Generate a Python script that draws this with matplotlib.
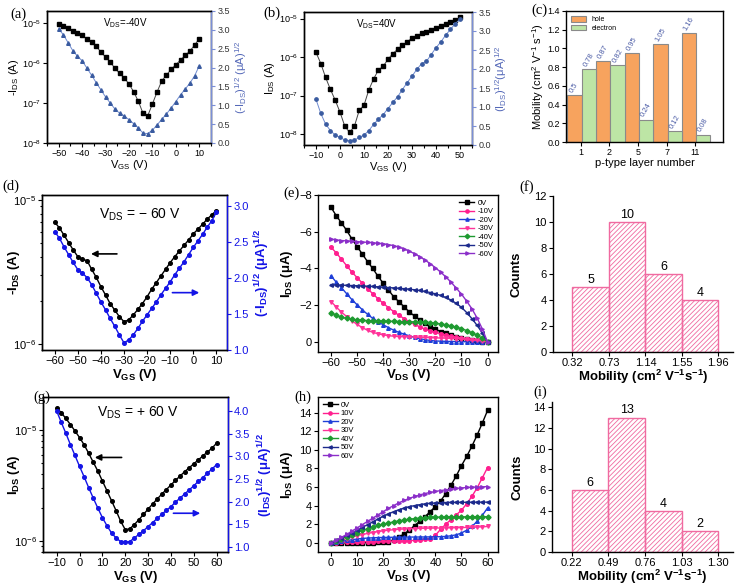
import numpy as np
import matplotlib
matplotlib.use("Agg")
import matplotlib.pyplot as plt
from matplotlib.ticker import MultipleLocator, NullLocator, NullFormatter, LogLocator, FixedLocator

plt.rcParams['font.family'] = ['Liberation Sans', 'DejaVu Sans']
plt.rcParams['mathtext.default'] = 'regular'
plt.rcParams['hatch.linewidth'] = 0.6
plt.rcParams['axes.linewidth'] = 1.0

# ---------------- data ----------------
# (a) transfer curve, VDS = -40 V
vgs_a = np.arange(-50, 11, 2)
ids_a = [9.3e-6, 8.5e-6, 7.4e-6, 6.5e-6, 5.7e-6, 4.9e-6, 4.0e-6, 3.3e-6, 2.6e-6, 1.9e-6, 1.4e-6,
         1.05e-6, 7.4e-7, 5.5e-7, 4.2e-7, 3.0e-7, 1.9e-7, 1.1e-7, 5.5e-8, 4.8e-8, 9.5e-8,
         1.9e-7, 3.6e-7, 5.0e-7, 7.0e-7, 9.0e-7, 1.2e-6, 1.55e-6, 2.0e-6, 2.8e-6, 4.1e-6]
sqrt_a = [3.02, 2.87, 2.66, 2.45, 2.30, 2.18, 1.99, 1.80, 1.60, 1.41, 1.22,
          1.06, 0.90, 0.79, 0.71, 0.62, 0.51, 0.40, 0.26, 0.25, 0.34,
          0.48, 0.63, 0.77, 0.93, 1.10, 1.28, 1.43, 1.59, 1.78, 2.05]

# (b) transfer curve, VDS = +40 V
vgs_b = np.arange(-10, 51, 2)
ids_b = [1.32e-6, 6.8e-7, 2.95e-7, 1.45e-7, 7.6e-8, 3.7e-8, 1.6e-8, 1.1e-8, 1.6e-8, 4.1e-8, 5.6e-8,
         1.4e-7, 2.7e-7, 4.6e-7, 5.8e-7, 8.7e-7, 1.23e-6, 1.58e-6, 2.04e-6, 2.5e-6, 3.1e-6,
         3.6e-6, 4.1e-6, 4.5e-6, 5.0e-6, 5.6e-6, 6.3e-6, 7.1e-6, 7.9e-6, 9.1e-6, 1.07e-5]
sqrt_b = [1.2, 0.83, 0.55, 0.38, 0.26, 0.20, 0.13, 0.11, 0.13, 0.20, 0.26,
          0.38, 0.54, 0.68, 0.80, 0.96, 1.12, 1.27, 1.46, 1.64, 1.81,
          1.99, 2.14, 2.20, 2.38, 2.56, 2.71, 2.89, 3.04, 3.19, 3.31]

# (c) mobility vs p-type layer number
layers = ['1', '2', '5', '7', '11']
mu_hole = [0.5, 0.87, 0.95, 1.05, 1.16]
mu_elec = [0.78, 0.82, 0.24, 0.12, 0.08]

# (d) transfer curve, VDS = -60 V
vgs_d = np.arange(-60, 11, 2)
ids_d = [7.0e-6, 6.4e-6, 5.7e-6, 5.06e-6, 4.5e-6, 4.04e-6, 3.87e-6, 3.79e-6, 3.30e-6, 2.90e-6,
         2.50e-6, 2.19e-6, 1.91e-6, 1.72e-6, 1.55e-6, 1.43e-6,
         1.47e-6, 1.59e-6, 1.74e-6, 1.91e-6, 2.13e-6, 2.40e-6, 2.67e-6, 2.97e-6, 3.30e-6, 3.67e-6,
         4.04e-6, 4.42e-6, 4.84e-6, 5.27e-6, 5.81e-6, 6.25e-6, 6.77e-6, 7.34e-6, 7.87e-6, 8.43e-6]
sqrt_d = [2.65, 2.56, 2.44, 2.33, 2.22, 2.12, 2.07, 2.01, 1.91, 1.79, 1.67, 1.56, 1.44, 1.33, 1.21, 1.10,
          1.14, 1.21, 1.30, 1.40, 1.49, 1.58, 1.67, 1.77, 1.86, 1.95,
          2.05, 2.14, 2.23, 2.33, 2.43, 2.52, 2.61, 2.71, 2.80, 2.92]

# (e) output curves, negative VGS
vds_e = np.arange(-60, 1, 2)
out_e = {
    '0V':   [-7.33, -6.87, -6.48, -6.07, -5.61, -5.19, -4.78, -4.37, -4.00, -3.57, -3.20, -2.83, -2.46,
             -2.19, -1.91, -1.63, -1.41, -1.20, -1.02, -0.83, -0.70, -0.56, -0.46, -0.37, -0.28, -0.20,
             -0.15, -0.09, -0.06, -0.02, 0.0],
    '-10V': [-5.15, -4.85, -4.50, -4.15, -3.80, -3.50, -3.20, -2.90, -2.62, -2.35, -2.10, -1.87, -1.65,
             -1.45, -1.27, -1.10, -0.95, -0.82, -0.70, -0.60, -0.52, -0.45, -0.38, -0.32, -0.27, -0.22,
             -0.17, -0.13, -0.09, -0.05, 0.0],
    '-20V': [-3.60, -3.25, -2.95, -2.62, -2.30, -2.02, -1.75, -1.50, -1.28, -1.10, -0.93, -0.78, -0.64,
             -0.52, -0.42, -0.33, -0.25, -0.18, -0.12, -0.08, -0.05, -0.04, -0.03, -0.02, -0.02, -0.01,
             -0.01, -0.01, 0.0, 0.0, 0.0],
    '-30V': [-2.20, -1.90, -1.62, -1.38, -1.15, -0.95, -0.78, -0.63, -0.52, -0.44, -0.38, -0.34, -0.31,
             -0.29, -0.28, -0.27, -0.26, -0.25, -0.24, -0.23, -0.22, -0.21, -0.20, -0.19, -0.18, -0.16,
             -0.14, -0.12, -0.09, -0.05, 0.0],
    '-40V': [-1.60, -1.45, -1.35, -1.28, -1.23, -1.20, -1.18, -1.16, -1.15, -1.14, -1.13, -1.12, -1.12,
             -1.11, -1.10, -1.10, -1.09, -1.08, -1.07, -1.05, -1.02, -0.98, -0.93, -0.87, -0.80, -0.72,
             -0.62, -0.50, -0.36, -0.20, 0.0],
    '-50V': [-3.12, -3.10, -3.09, -3.08, -3.07, -3.06, -3.05, -3.03, -3.02, -3.00, -2.98, -2.96, -2.94,
             -2.92, -2.90, -2.87, -2.84, -2.80, -2.75, -2.69, -2.62, -2.53, -2.42, -2.28, -2.10, -1.88,
             -1.60, -1.27, -0.90, -0.48, 0.0],
    '-60V': [-5.60, -5.55, -5.52, -5.50, -5.48, -5.46, -5.44, -5.42, -5.40, -5.37, -5.34, -5.30, -5.24,
             -5.16, -5.06, -4.94, -4.80, -4.64, -4.46, -4.26, -4.04, -3.80, -3.54, -3.25, -2.93, -2.60,
             -2.22, -1.80, -1.30, -0.70, 0.0],
}

# (f) hole mobility histogram
edges_f = [0.32, 0.73, 1.14, 1.55, 1.96]
counts_f = [5, 10, 6, 4]

# (g) transfer curve, VDS = +60 V
vgs_g = np.arange(-10, 61, 2)
ids_g = [1.58e-5, 1.43e-5, 1.27e-5, 1.12e-5, 9.8e-6, 8.55e-6, 7.36e-6, 6.17e-6, 5.13e-6, 4.27e-6,
         3.48e-6, 2.84e-6, 2.31e-6, 1.88e-6, 1.51e-6, 1.27e-6,
         1.29e-6, 1.41e-6, 1.56e-6, 1.74e-6, 1.94e-6, 2.16e-6, 2.39e-6, 2.65e-6, 2.91e-6, 3.2e-6,
         3.52e-6, 3.85e-6, 4.21e-6, 4.57e-6, 4.96e-6, 5.38e-6, 5.84e-6, 6.34e-6, 6.87e-6, 7.6e-6]
sqrt_g = [4.0, 3.75, 3.51, 3.26, 3.02, 2.78, 2.55, 2.31, 2.08, 1.86, 1.65, 1.47, 1.31, 1.2, 1.12, 1.11,
          1.12, 1.2, 1.28, 1.36, 1.45, 1.54, 1.63, 1.72, 1.81, 1.89,
          1.99, 2.08, 2.17, 2.26, 2.35, 2.45, 2.53, 2.63, 2.72, 2.82]

# (h) output curves, positive VGS
vds_h = np.arange(0, 61, 2)
out_h = {
    '0V':  [0, 0, 0, 0, 0, 0, 0, 0.01, 0.02, 0.03, 0.05, 0.12, 0.3, 0.6, 0.95, 1.35, 1.85, 2.3, 2.8,
            3.35, 3.9, 4.5, 5.3, 6.2, 7.2, 8.3, 9.3, 10.4, 11.6, 12.9, 14.25],
    '10V': [0, 0.02, 0.04, 0.06, 0.08, 0.1, 0.11, 0.12, 0.13, 0.14, 0.15, 0.16, 0.17, 0.18, 0.2, 0.22,
            0.25, 0.3, 0.38, 0.45, 0.8, 1.45, 2.0, 2.5, 3.0, 3.5, 4.2, 5.0, 5.9, 7.0, 8.1],
    '20V': [0, 0.08, 0.16, 0.24, 0.32, 0.4, 0.46, 0.5, 0.53, 0.55, 0.57, 0.58, 0.59, 0.6, 0.6, 0.61,
            0.61, 0.62, 0.62, 0.63, 0.64, 0.65, 0.68, 0.75, 0.85, 1.05, 1.35, 1.75, 2.3, 2.95, 3.75],
    '30V': [0, 0.15, 0.3, 0.45, 0.6, 0.75, 0.88, 1.0, 1.1, 1.2, 1.28, 1.35, 1.4, 1.45, 1.48, 1.51,
            1.53, 1.55, 1.56, 1.57, 1.58, 1.59, 1.6, 1.61, 1.62, 1.63, 1.65, 1.67, 1.69, 1.72, 1.75],
    '40V': [0, 0.22, 0.44, 0.66, 0.88, 1.1, 1.32, 1.52, 1.7, 1.86, 2.0, 2.12, 2.25, 2.35, 2.45, 2.53,
            2.6, 2.65, 2.7, 2.73, 2.75, 2.76, 2.77, 2.78, 2.78, 2.79, 2.79, 2.8, 2.8, 2.8, 2.8],
    '50V': [0, 0.25, 0.5, 0.78, 1.05, 1.35, 1.65, 1.95, 2.25, 2.55, 2.85, 3.1, 3.35, 3.55, 3.72, 3.88,
            4.0, 4.1, 4.18, 4.24, 4.28, 4.31, 4.33, 4.34, 4.35, 4.35, 4.36, 4.36, 4.37, 4.37, 4.37],
    '60V': [0, 0.28, 0.58, 0.9, 1.25, 1.6, 1.95, 2.3, 2.65, 3.0, 3.35, 3.7, 4.0, 4.3, 4.55, 4.78,
            4.98, 5.15, 5.3, 5.42, 5.52, 5.62, 5.7, 5.78, 5.85, 5.9, 5.95, 5.98, 6.0, 6.02, 6.05],
}

# (i) electron mobility histogram
edges_i = [0.22, 0.49, 0.76, 1.03, 1.30]
counts_i = [6, 13, 4, 2]

# styles for the output curves
curve_style = [('k', 's'), ('#ff1f8f', 'o'), ('#1f3fd8', '^'), ('#ff3399', 'v'),
               ('#1e9a30', 'D'), ('#1c2a8c', '<'), ('#8b2fc9', '>')]

# ---------------- layout ----------------
W, H = 740, 587
fig = plt.figure(figsize=(7.4, 5.87), dpi=100)


def box(l, t, r, b):
    # pixel box -> figure fraction
    return [l / W, 1 - b / H, (r - l) / W, (b - t) / H]


def panel_label(x, y, s):
    fig.text(x / W, 1 - y / H, s, family='Liberation Serif', fontsize=10.5, va='center')


def small_ticks(ax, size):
    ax.tick_params(which='both', direction='out', labelsize=size, width=0.8, pad=1.5)
    ax.tick_params(which='major', length=3)
    ax.tick_params(which='minor', length=1.8)


# ---------- (a) ----------
ax = fig.add_axes(box(47, 11, 211, 143))
ax.semilogy(vgs_a, ids_a, color='#444444', lw=0.7, marker='s', ms=2.6, mfc='k', mec='k')
ax.set_xlim(-55, 15)
ax.set_ylim(1e-8, 2e-5)
ax.xaxis.set_major_locator(MultipleLocator(10))
ax.xaxis.set_minor_locator(MultipleLocator(5))
ax.yaxis.set_major_locator(FixedLocator([1e-8, 1e-7, 1e-6, 1e-5]))
ax.yaxis.set_minor_locator(NullLocator())
small_ticks(ax, 6.5)
ax.set_xlabel('V$_{GS}$ (V)', fontsize=8)
ax.xaxis.set_label_coords(0.5, -0.115)
ax.set_ylabel('-I$_{DS}$ (A)', fontsize=8)
ax.yaxis.set_label_coords(-0.16, 0.5)
ax.text(0.48, 0.91, 'V$_{DS}$=-40V', transform=ax.transAxes, ha='center', va='center', fontsize=7)
ax2 = ax.twinx()
ax2.plot(vgs_a, sqrt_a, color='#6f8bd0', lw=0.7, marker='^', ms=2.6, mfc='#3a5ba0', mec='#3a5ba0')
ax2.set_ylim(0, 3.5)
ax2.yaxis.set_major_locator(MultipleLocator(0.5))
small_ticks(ax2, 6.5)
ax2.spines['right'].set_color('#7b8fd6')
ax2.tick_params(axis='y', colors='#7b8fd6', labelcolor='#333333')
ax2.set_ylabel('(-I$_{DS}$)$^{1/2}$ (μA)$^{1/2}$', fontsize=8, color='#5468b8')
ax2.yaxis.set_label_coords(1.134, 0.5)
panel_label(10, 14, '(a)')

# ---------- (b) ----------
ax = fig.add_axes(box(304, 12, 472, 145))
ax.semilogy(vgs_b, ids_b, color='#444444', lw=0.7, marker='s', ms=2.6, mfc='k', mec='k')
ax.set_xlim(-15, 55)
ax.set_ylim(5.2e-9, 1.48e-5)
ax.xaxis.set_major_locator(MultipleLocator(10))
ax.xaxis.set_minor_locator(MultipleLocator(5))
ax.yaxis.set_major_locator(FixedLocator([1e-8, 1e-7, 1e-6, 1e-5]))
ax.yaxis.set_minor_locator(NullLocator())
small_ticks(ax, 6.5)
ax.set_xlabel('V$_{GS}$ (V)', fontsize=8)
ax.xaxis.set_label_coords(0.5, -0.11)
ax.set_ylabel('I$_{DS}$ (A)', fontsize=8, labelpad=1)
ax.text(0.43, 0.91, 'V$_{DS}$=40V', transform=ax.transAxes, ha='center', va='center', fontsize=7)
ax2 = ax.twinx()
ax2.plot(vgs_b, sqrt_b, color='#6f8bd0', lw=0.7, marker='o', ms=2.4, mfc='#3a5ba0', mec='#3a5ba0')
ax2.set_ylim(0, 3.5)
ax2.yaxis.set_major_locator(MultipleLocator(0.5))
small_ticks(ax2, 6.5)
ax2.spines['right'].set_color('#7b8fd6')
ax2.tick_params(axis='y', colors='#7b8fd6', labelcolor='#333333')
ax2.set_ylabel('(I$_{DS}$)$^{1/2}$(μA)$^{1/2}$', fontsize=8, color='#5468b8')
ax2.yaxis.set_label_coords(1.125, 0.5)
panel_label(263, 13, '(b)')

# ---------- (c) ----------
ax = fig.add_axes(box(566, 11, 723, 142))
xc = np.arange(len(layers))
ax.bar(xc - 0.22, mu_hole, width=0.5, color='#f7a35e', edgecolor='#8a8a8a', lw=0.8, label='hole')
ax.bar(xc + 0.28, mu_elec, width=0.5, color='#bde5a5', edgecolor='#8a8a8a', lw=0.8, label='electron')
for x, h in zip(xc, mu_hole):
    ax.text(x - 0.34, h + 0.03, f'{h:g}', rotation=60, rotation_mode='anchor', ha='left', va='center',
            fontsize=5.5, color='#4b5ca6')
for x, h in zip(xc, mu_elec):
    ax.text(x + 0.16, h + 0.03, f'{h:g}', rotation=60, rotation_mode='anchor', ha='left', va='center',
            fontsize=5.5, color='#4b5ca6')
ax.set_xticks(xc)
ax.set_xticklabels(layers)
ax.set_xlim(-0.52, 4.97)
ax.set_ylim(0, 1.4)
ax.yaxis.set_major_locator(MultipleLocator(0.2))
ax.yaxis.set_major_formatter(matplotlib.ticker.FormatStrFormatter('%.1f'))
small_ticks(ax, 6.5)
ax.set_xlabel('p-type layer number', fontsize=8)
ax.xaxis.set_label_coords(0.5, -0.12)
ax.set_ylabel('Mobility (cm$^2$ V$^{-1}$ s$^{-1}$)', fontsize=8, labelpad=1)
ax.legend(loc='upper left', fontsize=5, frameon=False, handlelength=2.2, handleheight=0.9,
          borderaxespad=0.3, labelspacing=0.2)
panel_label(531, 10, '(c)')


# ---------- (d) and (g): transfer curves with sqrt axis ----------
def transfer(rect, vgs, ids, sq, xlim, ylim, y2lim, xmaj, ylab, y2lab, vds_txt, txt_xy, arrows, lab_xy):
    ax = fig.add_axes(box(*rect))
    ax.semilogy(vgs, ids, color='k', lw=1.0, marker='o', ms=2.6)
    ax.set_xlim(*xlim)
    ax.set_ylim(*ylim)
    ax.xaxis.set_major_locator(FixedLocator(xmaj))
    ax.yaxis.set_major_locator(FixedLocator([1e-6, 1e-5]))
    ax.yaxis.set_minor_locator(LogLocator(base=10, subs=np.arange(2, 10)))
    ax.yaxis.set_minor_formatter(NullFormatter())
    small_ticks(ax, 8)
    ax.set_xlabel('V$_{GS}$ (V)', fontsize=9.5, fontweight='bold')
    ax.xaxis.set_label_coords(0.5, lab_xy[1])
    ax.set_ylabel(ylab, fontsize=9.5, fontweight='bold')
    ax.yaxis.set_label_coords(lab_xy[0], 0.5)
    ax.text(txt_xy[0], txt_xy[1], vds_txt, transform=ax.transAxes, ha='center', va='center', fontsize=10)
    ax2 = ax.twinx()
    ax2.plot(vgs, sq, color='#1414e6', lw=1.0, marker='o', ms=2.6)
    ax2.set_ylim(*y2lim)
    ax2.yaxis.set_major_locator(MultipleLocator(0.5))
    small_ticks(ax2, 8)
    ax2.spines['right'].set_color('#1414e6')
    ax2.tick_params(axis='y', colors='#1414e6')
    ax2.set_ylabel(y2lab, fontsize=9.5, fontweight='bold', color='#1414e6')
    ax2.yaxis.set_label_coords(lab_xy[2], 0.5)
    (bx0, bx1, by), (rx0, rx1, ry) = arrows
    ax.annotate('', xy=(bx1, by), xytext=(bx0, by), xycoords='axes fraction',
                arrowprops=dict(arrowstyle='-|>', color='k', lw=1.2, mutation_scale=9))
    ax.annotate('', xy=(rx1, ry), xytext=(rx0, ry), xycoords='axes fraction',
                arrowprops=dict(arrowstyle='-|>', color='#1414e6', lw=1.2, mutation_scale=9))
    return ax


transfer((42, 195, 227, 350), vgs_d, ids_d, sqrt_d, (-65.5, 14.6), (9.1e-7, 1.08e-5), (1.0, 3.16),
         [-60, -50, -40, -30, -20, -10, 0, 10], '-I$_{DS}$ (A)', '(-I$_{DS}$)$^{1/2}$ (μA)$^{1/2}$',
         'V$_{DS}$ = \u2212 60 V', (0.53, 0.87), ((0.42, 0.25, 0.62), (0.69, 0.865, 0.37)),
         (-0.108, -0.11, 1.14))
panel_label(2, 186, '(d)')

transfer((43, 397, 228, 552), vgs_g, ids_g, sqrt_g, (-16, 65), (7.98e-7, 1.98e-5), (0.89, 4.31),
         [-10, 0, 10, 20, 30, 40, 50, 60], 'I$_{DS}$ (A)', '(I$_{DS}$)$^{1/2}$ (μA)$^{1/2}$',
         'V$_{DS}$ = + 60 V', (0.51, 0.9), ((0.44, 0.265, 0.61), (0.69, 0.865, 0.25)),
         (-0.114, -0.108, 1.146))
panel_label(33, 397, '(g)')


# ---------- (e) and (h): output curves ----------
def output(rect, vds, curves, xlim, ylim, yticks, legend_loc, lab_y):
    ax = fig.add_axes(box(*rect))
    for (lab, ys), (c, m) in zip(curves.items(), curve_style):
        ax.plot(vds, ys, color=c, lw=1.0, marker=m, ms=2.6, label=lab)
    ax.set_xlim(*xlim)
    ax.set_ylim(*ylim)
    ax.xaxis.set_major_locator(MultipleLocator(10))
    ax.yaxis.set_major_locator(FixedLocator(yticks))
    small_ticks(ax, 8)
    ax.set_xlabel('V$_{DS}$ (V)', fontsize=9.5, fontweight='bold')
    ax.xaxis.set_label_coords(0.5, lab_y)
    ax.set_ylabel('I$_{DS}$ (μA)', fontsize=9.5, fontweight='bold')
    ax.yaxis.set_label_coords(-0.128, 0.5)
    ax.legend(loc=legend_loc, fontsize=5.5, frameon=False, handlelength=2.0, labelspacing=0.15,
              borderaxespad=0.2, handletextpad=0.4, markerscale=0.9)
    return ax


output((318, 195, 498, 352), vds_e, out_e, (-65, 4), (0.55, -8), [0, -2, -4, -6, -8], 'upper right', -0.096)
panel_label(283, 193, '(e)')
output((318, 397, 498, 552), vds_h, out_h, (-5, 64), (-1, 15.7), [0, 2, 4, 6, 8, 10, 12, 14],
       'upper left', -0.1)
panel_label(294, 397, '(h)')


# ---------- (f) and (i): mobility histograms ----------
def hist(rect, edges, counts, ylim, ytop, lab_xy):
    ax = fig.add_axes(box(*rect))
    widths = np.diff(edges)
    ax.bar(edges[:-1], counts, width=widths, align='edge', fill=False, hatch='///////',
           edgecolor='#f06aa0', lw=1.0)
    for x0, w, c in zip(edges[:-1], widths, counts):
        ax.text(x0 + w / 2, c + 0.1, str(c), ha='center', va='bottom', fontsize=9)
    ax.set_xticks(edges)
    ax.set_xticklabels([f'{e:.2f}' for e in edges])
    span = edges[-1] - edges[0]
    ax.set_xlim(edges[0] - 0.133 * span, edges[-1] + 0.1 * span)
    ax.set_ylim(0, ylim)
    ax.set_yticks(np.arange(0, ytop + 1, 2))
    ax.spines['top'].set_visible(False)
    ax.spines['right'].set_visible(False)
    small_ticks(ax, 8)
    ax.set_xlabel('Mobility (cm$^2$ V$^{-1}$s$^{-1}$)', fontsize=9.5, fontweight='bold')
    ax.xaxis.set_label_coords(0.5, lab_xy[1])
    ax.set_ylabel('Counts', fontsize=9.5, fontweight='bold')
    ax.yaxis.set_label_coords(lab_xy[0], 0.5)
    return ax


hist((553, 196, 733, 352), edges_f, counts_f, 12, 12, (-0.167, -0.1))
panel_label(519, 187, '(f)')
hist((552, 402, 733, 552), edges_i, counts_i, 14.5, 14, (-0.16, -0.105))
panel_label(533, 392, '(i)')

fig.savefig('out.png', dpi=100)
